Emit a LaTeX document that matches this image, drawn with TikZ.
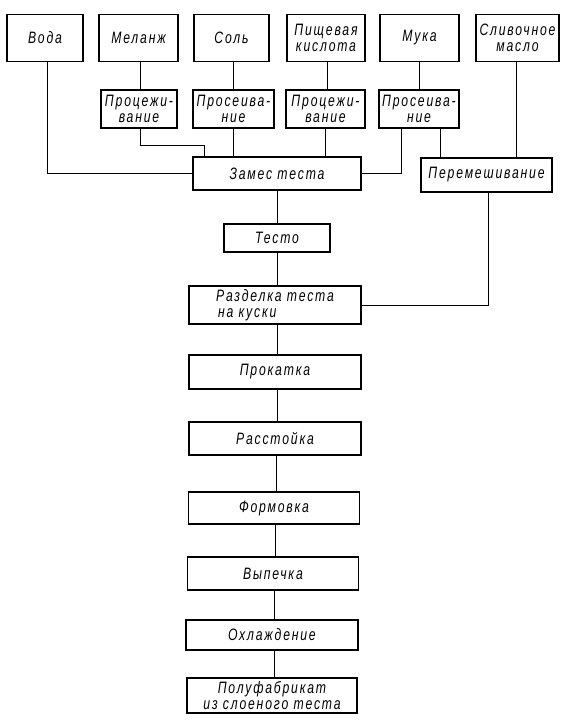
\documentclass[tikz,border=0pt]{standalone}
\usepackage{fontspec}
\setmainfont{Liberation Sans}[ItalicFeatures={FakeStretch=0.74,LetterSpace=11}]
\begin{document}
\begin{tikzpicture}[x=1pt,y=-1pt,
  box/.style={draw,line width=1.5pt,rectangle,inner sep=0pt,align=center,
    font=\fontsize{16.5}{16}\selectfont\itshape},
  conn/.style={line width=1pt}]
\useasboundingbox (0,0) rectangle (568,724);
% top row
\node[box,minimum width=76pt,minimum height=47pt] (voda) at (45,38) {Вода};
\node[box,minimum width=79pt,minimum height=47pt] (melanzh) at (138.5,38) {Меланж};
\node[box,minimum width=75pt,minimum height=47pt] (sol) at (231.5,38) {Соль};
\node[box,minimum width=78pt,minimum height=47pt] (kislota) at (326,38) {Пищевая\\кислота};
\node[box,minimum width=79pt,minimum height=47pt] (muka) at (419.5,38) {Мука};
\node[box,minimum width=83pt,minimum height=47pt] (maslo) at (517.5,38) {Сливочное\\масло};
% second row
\node[box,minimum width=76pt,minimum height=38pt] (proc1) at (139,109) {Процежи-\\вание};
\node[box,minimum width=81pt,minimum height=38pt] (pros1) at (233.5,109) {Просеива-\\ние};
\node[box,minimum width=79pt,minimum height=38pt] (proc2) at (325.5,109) {Процежи-\\вание};
\node[box,minimum width=80pt,minimum height=38pt] (pros2) at (419,109) {Просеива-\\ние};
% mixing
\node[box,minimum width=168pt,minimum height=33pt] (zames) at (277,173.5) {Замес теста};
\node[box,minimum width=131pt,minimum height=34pt] (perem) at (486.5,175) {Перемешивание};
% main column
\node[box,minimum width=106pt,minimum height=28pt] (testo) at (277,238) {Тесто};
\node[box,minimum width=172pt,minimum height=38pt,align=left] (razdelka) at (275,305) {Разделка теста\\\hspace*{2pt}на куски};
\node[box,minimum width=172pt,minimum height=34pt] (prokatka) at (275,372) {Прокатка};
\node[box,minimum width=172pt,minimum height=33pt] (rasst) at (275,438.5) {Расстойка};
\node[box,minimum width=171pt,minimum height=32pt] (formovka) at (274,508) {Формовка};
\node[box,minimum width=171pt,minimum height=33pt] (vypechka) at (273,573.5) {Выпечка};
\node[box,minimum width=172pt,minimum height=30pt] (ohl) at (272,635) {Охлаждение};
\node[box,minimum width=170pt,minimum height=35pt] (pf) at (272,695.5) {Полуфабрикат\\из слоеного теста};
% junction coordinates
\coordinate (j1) at (140,145);
\coordinate (j1b) at (204,145);
% connectors, top
\draw[conn] ([xshift=2pt]voda.south) |- (zames.west);
\draw[conn] ([xshift=2pt]melanzh.south) -- ([xshift=2pt]melanzh.south |- proc1.north);
\draw[conn] (proc1.south -| j1) -- (j1) -- (j1b) -- (j1b |- zames.north);
\draw[conn] ([xshift=1.5pt]sol.south) -- ([xshift=1.5pt]sol.south |- pros1.north);
\draw[conn] (pros1.south) -- (pros1.south |- zames.north);
\draw[conn] ([xshift=1pt]kislota.south) -- ([xshift=1pt]kislota.south |- proc2.north);
\draw[conn] (proc2.south) -- (proc2.south |- zames.north);
\draw[conn] (muka.south) -- (muka.south |- pros2.north);
\draw[conn] ([xshift=-18pt]pros2.south) |- (zames.east);
\draw[conn] ([xshift=21pt]pros2.south) -- ([xshift=21pt]pros2.south |- perem.north);
\draw[conn] ([xshift=-1.5pt]maslo.south) -- ([xshift=-1.5pt]maslo.south |- perem.north);
\draw[conn] ([xshift=1.5pt]perem.south) |- (razdelka.east);
% main column
\draw[conn] (zames.south) -- (zames.south |- testo.north);
\draw[conn] (testo.south) -- (testo.south |- razdelka.north);
\draw[conn] (testo.south |- razdelka.south) -- (testo.south |- prokatka.north);
\draw[conn] (testo.south |- prokatka.south) -- (testo.south |- rasst.north);
\draw[conn] ([xshift=1pt]rasst.south) -- ([xshift=1pt]rasst.south |- formovka.north);
\draw[conn] ([xshift=1pt]formovka.south) -- ([xshift=1pt]formovka.south |- vypechka.north);
\draw[conn] ([xshift=1pt]vypechka.south) -- ([xshift=1pt]vypechka.south |- ohl.north);
\draw[conn] ([xshift=2pt]ohl.south) -- ([xshift=2pt]ohl.south |- pf.north);
\end{tikzpicture}
\end{document}
